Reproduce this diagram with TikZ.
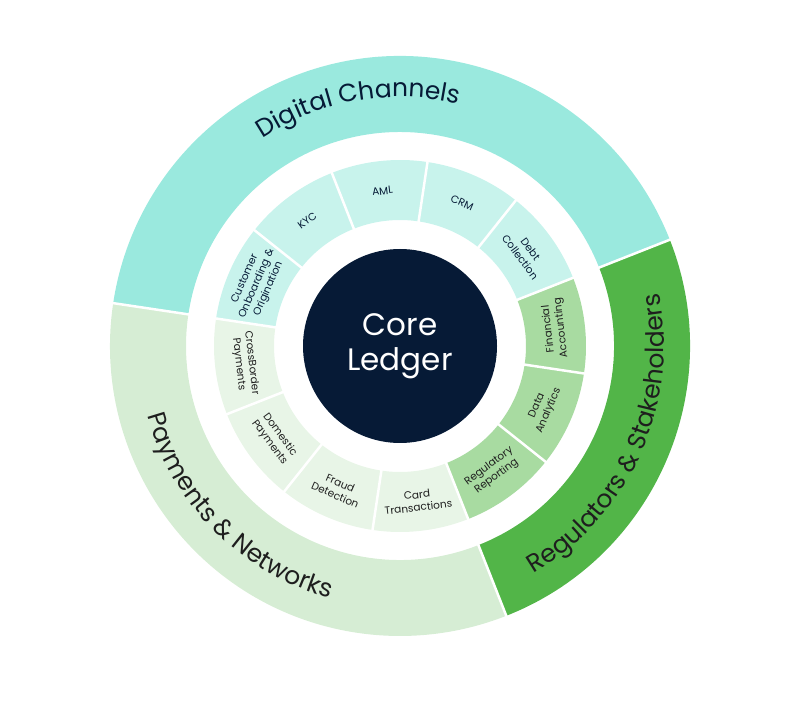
\documentclass[tikz,border=0pt]{standalone}
\usepackage{fontspec}
\setmainfont{Poppins}
\usetikzlibrary{decorations.text}
\definecolor{tealO}{HTML}{9AE9DE}
\definecolor{tealI}{HTML}{C8F3EC}
\definecolor{greenO}{HTML}{52B548}
\definecolor{greenI}{HTML}{A8DBA1}
\definecolor{payO}{HTML}{D6EDD4}
\definecolor{payI}{HTML}{E8F5E7}
\definecolor{navy}{HTML}{061A36}
\definecolor{darktxt}{HTML}{1E1E1E}
\newcommand{\outerfont}{\fontsize{25}{29}\selectfont}
\begin{document}
\begin{tikzpicture}[x=1pt,y=1pt,
  seglabel/.style={font=\fontsize{10.5}{12.8}\selectfont, align=center, inner sep=0pt},
  sep/.style={draw=white, line width=2.5pt}]
\useasboundingbox (0,0) rectangle (800,704);
\begin{scope}[shift={(400,358)}]
% outer ring
\fill[tealO] (171.5:214) arc[start angle=171.5,end angle=21.5,radius=214] -- (21.5:290) arc[start angle=21.5,end angle=171.5,radius=290] -- cycle;
\fill[greenO] (21.5:214) arc[start angle=21.5,end angle=-68.5,radius=214] -- (-68.5:290) arc[start angle=-68.5,end angle=21.5,radius=290] -- cycle;
\fill[payO] (-68.5:214) arc[start angle=-68.5,end angle=-188.5,radius=214] -- (-188.5:290) arc[start angle=-188.5,end angle=-68.5,radius=290] -- cycle;
\foreach \a in {21.5,-68.5,171.5} {\draw[sep] (\a:212) -- (\a:292);}
% inner ring
\foreach \i in {0,...,11} {
  \pgfmathsetmacro\sa{171.5-30*\i}
  \pgfmathsetmacro\ea{\sa-30}
  \ifnum\i<5 \def\segc{tealI}\else\ifnum\i<8 \def\segc{greenI}\else\def\segc{payI}\fi\fi
  \fill[\segc] (\sa:126) arc[start angle=\sa,end angle=\ea,radius=126] -- (\ea:186) arc[start angle=\ea,end angle=\sa,radius=186] -- cycle;
}
\foreach \i in {0,...,11} {\draw[sep] ({21.5+30*\i}:124) -- ({21.5+30*\i}:188);}
% core
\node[circle, fill=navy, minimum size=194pt, inner sep=0pt, text=white, align=center,
  font=\fontsize{31}{35}\selectfont] (core) at (0,0) {Core\\Ledger};
% inner labels
\node[seglabel, text=navy, rotate=66.5] (cust) at (156.5:156) {Customer\\Onboarding \&\\Origination};
\node[seglabel, text=navy, rotate=36.5] (kyc) at (126.5:156) {KYC};
\node[seglabel, text=navy, rotate=6.5] (aml) at (96.5:156) {AML};
\node[seglabel, text=navy, rotate=-23.5] (crm) at (66.5:156) {CRM};
\node[seglabel, text=navy, rotate=-53.5] (debt) at (36.5:156) {Debt\\Collection};
\node[seglabel, text=darktxt, rotate=96.5] (fin) at (6.5:156) {Financial\\Accounting};
\node[seglabel, text=darktxt, rotate=66.5] (data) at (-23.5:156) {Data\\Analytics};
\node[seglabel, text=darktxt, rotate=36.5] (reg) at (-53.5:156) {Regulatory\\Reporting};
\node[seglabel, text=darktxt, rotate=6.5] (card) at (-83.5:156) {Card\\Transactions};
\node[seglabel, text=darktxt, rotate=-23.5] (fraud) at (-113.5:156) {Fraud\\Detection};
\node[seglabel, text=darktxt, rotate=-53.5] (dom) at (-143.5:156) {Domestic\\Payments};
\node[seglabel, text=darktxt, rotate=-83.5] (cross) at (-173.5:156) {CrossBorder\\Payments};
% outer labels
\path[decorate, decoration={text along path, text align=center,
  text={|\outerfont\color{navy}|Digital Channels}}]
  (170:249) arc[start angle=170,end angle=30,radius=249];
\path[decorate, decoration={text along path, text align=center,
  text={|\outerfont\color{darktxt}|Payments {\&} Networks}}]
  (155:262) arc[start angle=155,end angle=295,radius=262];
\path[decorate, decoration={text along path, text align=center,
  text={|\outerfont\color{darktxt}|Regulators {\&} Stakeholders}}]
  (-94:264) arc[start angle=-94,end angle=46,radius=264];
\end{scope}
\end{tikzpicture}
\end{document}
